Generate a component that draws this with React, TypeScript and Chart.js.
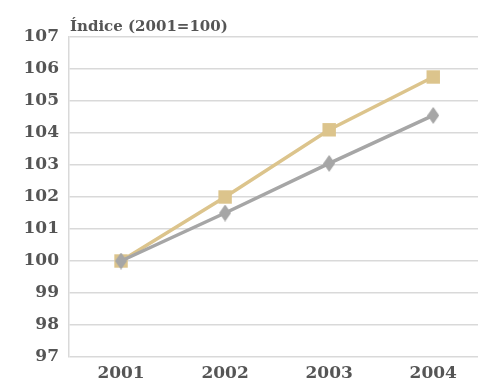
import React, { useEffect, useRef } from "react";
import { Chart, registerables } from "chart.js";

Chart.register(...registerables);

const years = [2001, 2002, 2003, 2004];
const seriesGold = [100, 102.0, 104.1, 105.75];
const seriesGray = [100, 101.5, 103.05, 104.55];
const yMin = 97;
const yMax = 107;
const titleText = "Índice (2001=100)";

const GOLD = "#dcc48c";
const GRAY = "#a6a6a6";
const TEXT = "#555555";
const GRID = "#d9d9d9";
const FONT = "DejaVu Serif";

function makeDiamond(w: number, h: number, color: string) {
  const c = document.createElement("canvas");
  c.width = w;
  c.height = h;
  const ctx = c.getContext("2d")!;
  ctx.fillStyle = color;
  ctx.beginPath();
  ctx.moveTo(w / 2, 0);
  ctx.lineTo(w, h / 2);
  ctx.lineTo(w / 2, h);
  ctx.lineTo(0, h / 2);
  ctx.closePath();
  ctx.fill();
  return c;
}

export default function App() {
  const ref = useRef<HTMLCanvasElement | null>(null);

  useEffect(() => {
    if (!ref.current) return;
    const diamond = makeDiamond(12, 17, GRAY);
    const titlePlugin = {
      id: "titleText",
      afterDraw(chart: any) {
        const ctx = chart.ctx;
        ctx.save();
        ctx.font = `bold 15px "${FONT}"`;
        ctx.fillStyle = TEXT;
        ctx.textAlign = "left";
        ctx.textBaseline = "alphabetic";
        ctx.fillText(titleText, chart.chartArea.left + 1, 31);
        ctx.restore();
      },
    };
    const chart = new Chart(ref.current, {
      type: "line",
      data: {
        datasets: [
          {
            label: "gray",
            data: years.map((y, i) => ({ x: y, y: seriesGray[i] })),
            borderColor: GRAY,
            backgroundColor: GRAY,
            borderWidth: 3.5,
            pointStyle: diamond as any,
            pointRadius: 8,
            tension: 0,
          },
          {
            label: "gold",
            data: years.map((y, i) => ({ x: y, y: seriesGold[i] })),
            borderColor: GOLD,
            backgroundColor: GOLD,
            borderWidth: 3.5,
            pointStyle: "rect",
            pointRadius: 9.5,
            pointBorderWidth: 0,
            tension: 0,
          },
        ],
      },
      options: {
        animation: false,
        responsive: false,
        layout: { autoPadding: false, padding: { top: 37, right: 0, left: 0, bottom: 0 } },
        plugins: { legend: { display: false }, tooltip: { enabled: false } },
        scales: {
          x: {
            type: "linear",
            min: 2000.5,
            max: 2004.43,
            grid: { display: false, drawTicks: false },
            border: { display: false },
            afterBuildTicks: (s: any) => {
              s.ticks = years.map((v) => ({ value: v }));
            },
            afterFit: (s: any) => {
              s.height = 33;
              s.paddingLeft = 0;
              s.paddingRight = 0;
            },
            ticks: {
              callback: (v: any) => String(v),
              font: { family: FONT, size: 17, weight: "bold" },
              color: TEXT,
              padding: 6,
              maxRotation: 0,
              autoSkip: false,
            },
          },
          y: {
            min: yMin,
            max: yMax,
            afterFit: (s: any) => {
              s.width = 69;
            },
            grid: { color: GRID, lineWidth: 1.5, drawTicks: false },
            border: { display: true, color: GRID, width: 1.5 },
            ticks: {
              stepSize: 1,
              font: { family: FONT, size: 17, weight: "bold" },
              color: TEXT,
              padding: 10,
            },
          },
        },
      },
      plugins: [titlePlugin],
    });
    return () => chart.destroy();
  }, []);

  return (
    <div style={{ position: "fixed", left: 0, top: 0, width: 478, height: 390, background: "#fff" }}>
      <canvas ref={ref} width={478} height={390} style={{ display: "block" }} />
    </div>
  );
}
